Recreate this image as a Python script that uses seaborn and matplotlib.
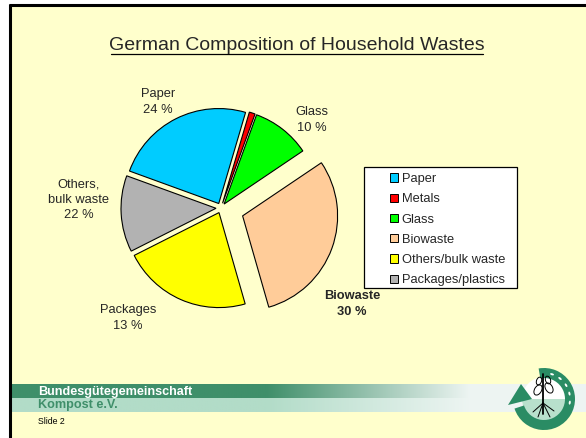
import numpy as np
import matplotlib
matplotlib.use("Agg")
import matplotlib.pyplot as plt
import seaborn as sns
from matplotlib.patches import Rectangle, Wedge, Circle, Polygon, Patch, Ellipse

# data
categories = ["Paper", "Metals", "Glass", "Biowaste", "Others/bulk waste", "Packages/plastics"]
shares = [24, 1, 10, 30, 22, 13]
slice_colors = ["#00CCFF", "#FF0000", "#00FF00", "#FFCC99", "#FFFF00", "#B2B2B2"]
pie_labels = ["Paper\n24 %", "Glass\n10 %", "Biowaste\n30 %", "Packages\n13 %", "Others,\nbulk waste\n22 %"]
title_text = "German Composition of Household Wastes"
org_lines = ["Bundesgütegemeinschaft", "Kompost e.V."]
slide_text = "Slide 2"

# style
pull_out = [0.05, 0.05, 0.05, 0.23, 0.05, 0.05]
label_xy = [(-0.63, 1.06), (0.91, 0.88), (1.31, -0.96), (-0.93, -1.10), (-1.42, 0.08)]
label_bold = [False, False, True, False, False]
bg_yellow = "#FFFFCC"
dark_green = "#3F8F6A"
light_green = "#B2DCC8"
logo_green = "#2A8C64"

sns.set_style("white")
plt.rcParams["font.family"] = ["Liberation Sans", "DejaVu Sans"]

W, H = 586, 438
fig = plt.figure(figsize=(W / 100, H / 100), dpi=100, facecolor="white")

# slide background in pixel coordinates
bg = fig.add_axes([0, 0, 1, 1])
bg.set_xlim(0, W)
bg.set_ylim(H, 0)
bg.axis("off")
bg.add_patch(Rectangle((9, 5), W, H, facecolor=bg_yellow, edgecolor="none"))
bg.plot([9.5, 9.5], [4, H], color="black", lw=2.2, solid_capstyle="butt")
bg.plot([8.5, W], [5, 5], color="black", lw=2.2, solid_capstyle="butt")

# title with underline
bg.text(297, 45, title_text, ha="center", va="center", fontsize=14)
bg.plot([111, 483], [53.5, 53.5], color="black", lw=0.9)


def band(y0, y1, color):
    c = np.array(matplotlib.colors.to_rgb(color))
    xs = np.linspace(10, W, 600)
    t = np.clip((xs - 267) / (470 - 267), 0, 1)
    end = np.array([0.93, 0.96, 0.95])
    row = (1 - t)[:, None] * c + t[:, None] * end
    bg.imshow(row[None, :, :], extent=[10, W, y1, y0], aspect="auto", zorder=1)


band(384, 398, dark_green)
band(398, 412, light_green)
bg.set_xlim(0, W)
bg.set_ylim(H, 0)

bg.text(38, 391.5, org_lines[0], color="white", fontweight="bold", fontsize=9.1,
        va="center", zorder=3)
bg.text(38, 405, org_lines[1], color=dark_green, fontweight="bold", fontsize=9.1,
        va="center", zorder=3)
bg.text(38, 421, slide_text, color="black", fontsize=6.3, va="center", zorder=3)

# logo
cx, cy = 544, 399
bg.add_patch(Circle((cx, cy), 22, facecolor="white", edgecolor="none", zorder=4))
bg.add_patch(Wedge((cx, cy), 22, 0, 180, facecolor="#B8E0CC", edgecolor="none", zorder=4))
bg.add_patch(Wedge((cx, cy), 31, -100, 162, width=10, facecolor=logo_green,
                   edgecolor="none", zorder=5))
bg.add_patch(Polygon([[508, 405], [532, 399], [521, 384]], closed=True,
                     facecolor=logo_green, edgecolor="none", zorder=5))
for a in [-72, -52, -32, -12, 8]:
    r = np.deg2rad(a)
    bg.add_patch(Ellipse((cx + 26 * np.cos(r), cy + 26 * np.sin(r)), 4, 2,
                         angle=a + 90, facecolor="white", edgecolor="none", zorder=6))
bg.plot([cx - 1, cx - 1], [374, 414], color="black", lw=1.3, zorder=6)
for (ex, ey, ew, eh, ang) in [(538, 390, 7, 11, 30), (549, 388, 7, 11, -30),
                              (539, 381, 5, 8, 20), (548, 380, 5, 8, -20)]:
    bg.add_patch(Ellipse((ex, ey), ew, eh, angle=ang, facecolor="none",
                         edgecolor="black", lw=0.7, zorder=6))
for (x1, y1) in [(533, 412), (554, 411), (538, 417), (550, 417)]:
    bg.plot([cx - 1, x1], [403, y1], color="black", lw=0.7, zorder=6)

# pie chart
ax = fig.add_axes([71 / W, (H - 208 - 150) / H, 300 / W, 300 / H])
ax.set_facecolor("none")
ax.pie(shares, colors=slice_colors, explode=pull_out, startangle=160,
       counterclock=False, radius=0.95,
       wedgeprops=dict(edgecolor="black", linewidth=0.8))
ax.set_xlim(-1.5, 1.5)
ax.set_ylim(-1.5, 1.5)
ax.axis("off")
for txt, (lx, ly), b in zip(pie_labels, label_xy, label_bold):
    ax.text(lx, ly, txt, ha="center", va="center", fontsize=9.3,
            fontweight="bold" if b else "normal", linespacing=1.35)

# legend
bg.add_patch(Rectangle((364, 167), 153, 121, facecolor="white", edgecolor="black",
                       lw=0.9, zorder=2))
handles = [Patch(facecolor=c, edgecolor="black", lw=0.7) for c in slice_colors]
leg = fig.legend(handles, categories, loc="upper left",
                 bbox_to_anchor=(390 / W, 1 - 173 / H), frameon=False,
                 fontsize=9.3, handlelength=0.6, handleheight=0.6,
                 handletextpad=0.3, labelspacing=0.64, borderpad=0,
                 borderaxespad=0)

fig.savefig("out.png", dpi=100, facecolor="white")
